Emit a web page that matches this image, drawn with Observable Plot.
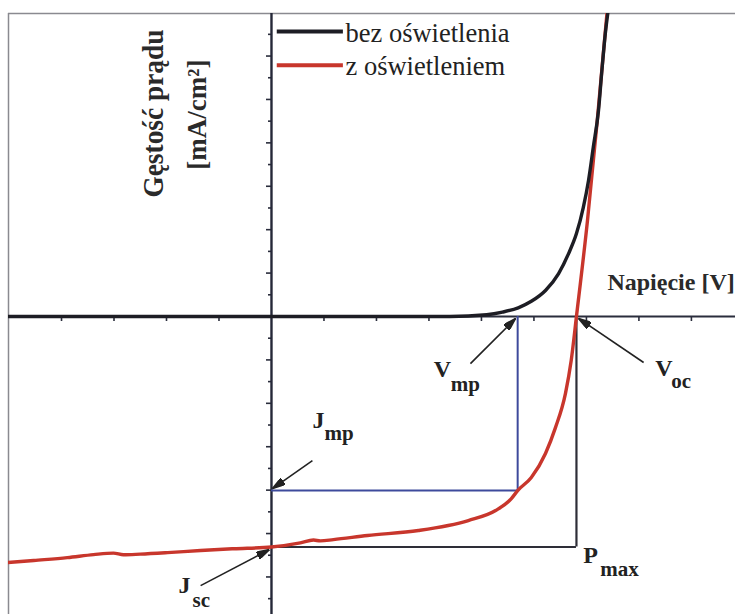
<!DOCTYPE html>
<html><head><meta charset="utf-8">
<script src="https://cdn.jsdelivr.net/npm/d3@7"></script>
<script src="https://cdn.jsdelivr.net/npm/@observablehq/plot@0.6"></script>
<style>body{margin:0;background:#fff}#chart svg{display:block}</style>
</head><body><div id="chart"></div>
<script>
// ---- data ----
const darkV = [-0.503, 0.34, 0.410, 0.440, 0.470, 0.495, 0.522, 0.547, 0.566, 0.581, 0.594, 0.604, 0.613, 0.623, 0.629, 0.636, 0.642];
const darkJ = [0, 0, 0.08, 0.20, 0.40, 0.70, 1.20, 1.98, 2.90, 3.82, 5.02, 6.27, 7.79, 9.49, 11.2, 13.04, 14.2];
const lightV = [-0.503, -0.453, -0.389, -0.339, -0.301, -0.282, -0.250, -0.198, -0.135, -0.072, 0, 0.055, 0.080, 0.093, 0.118, 0.183, 0.280, 0.375, 0.427, 0.457, 0.469, 0.495, 0.522, 0.541, 0.560, 0.571, 0.581, 0.602, 0.621, 0.640];
const lightJ = [-11.34, -11.24, -11.11, -10.97, -10.90, -10.98, -10.95, -10.88, -10.78, -10.70, -10.62, -10.43, -10.30, -10.34, -10.28, -10.09, -9.86, -9.40, -8.94, -8.39, -8.02, -7.42, -6.31, -5.12, -3.55, -2.03, 0, 4.42, 9.12, 14.2];
const xTicks = [-0.4, -0.3, -0.2, -0.1, 0.1, 0.2, 0.3, 0.4, 0.5, 0.6, 0.7, 0.8];
const yTicks = [-13,-12,-11,-10,-9,-8,-7,-6,-5,-4,-3,-2,-1,1,2,3,4,5,6,7,8,9,10,11,12,13];
const Vmp = 0.469, Jmp = -8.02, Voc = 0.581, Jsc = -10.62;
const seriesNames = ["bez oświetlenia", "z oświetleniem"];
const seriesColors = ["#1d1d24", "#c8362c"];
// annotation labels: main letter, subscript, anchor point
const labelMain = ["V", "V", "J", "J", "P"];
const labelSub = ["mp", "oc", "mp", "sc", "max"];
const labelV = [0.309, 0.731, 0.078, -0.177, 0.594];
const labelJ = [-2.81, -2.76, -5.16, -12.76, -11.34];
// arrows: tail -> head
const arrowTailV = [0.379, 0.709, 0.078, -0.135];
const arrowTailJ = [-2.17, -2.12, -6.64, -12.40];
const arrowHeadV = [0.465, 0.585, 0.002, -0.004];
const arrowHeadJ = [-0.09, -0.09, -7.93, -10.74];

// ---- layout ----
const W = 735, H = 614, mT = 13, mL = 8, mR = 0, mB = 0;
const xDomain = [-0.501, 0.884];
const yDomain = [-13.73, 13.96];
const pxPerV = (W - mL - mR) / (xDomain[1] - xDomain[0]);
const pxPerJ = (H - mT - mB) / (yDomain[1] - yDomain[0]);
const serif = "Liberation Serif";

const dark = darkV.map((v, i) => ({V: v, J: darkJ[i]}));
const light = lightV.map((v, i) => ({V: v, J: lightJ[i]}));
const labels = labelMain.map((m, i) => ({m, s: labelSub[i], V: labelV[i], J: labelJ[i]}));
const arrows = arrowTailV.map((v, i) => ({x1: v, y1: arrowTailJ[i], x2: arrowHeadV[i], y2: arrowHeadJ[i]}));
const legend = seriesNames.map((n, i) => ({n, c: seriesColors[i], y: [13.13, 11.57][i]}));

function headMarker(color, context) {
  const ns = "http://www.w3.org/2000/svg";
  const doc = context && context.document ? context.document : document;
  const m = doc.createElementNS(ns, "marker");
  m.setAttribute("viewBox", "-13 -4 13 8");
  m.setAttribute("markerWidth", "13");
  m.setAttribute("markerHeight", "8");
  m.setAttribute("markerUnits", "userSpaceOnUse");
  m.setAttribute("orient", "auto");
  m.setAttribute("refX", "0");
  m.setAttribute("refY", "0");
  const p = doc.createElementNS(ns, "path");
  p.setAttribute("d", "M-13,-3.8L0,0L-13,3.8Z");
  p.setAttribute("fill", color);
  m.appendChild(p);
  return m;
}

function build(marker) {
  const subDx = [17, 16, 12, 14, 17];
  const subDy = [14, 12, 12, 14, 13];
  return Plot.plot({
    width: W, height: H,
    marginTop: mT, marginLeft: mL, marginRight: mR, marginBottom: mB,
    x: {domain: xDomain, axis: null},
    y: {domain: yDomain, axis: null},
    style: {background: "#fff", overflow: "visible"},
    marks: [
      // frame (top and left border)
      Plot.ruleY([yDomain[1]], {x1: xDomain[0], x2: xDomain[1], stroke: "#8a8a90", strokeWidth: 1.5}),
      Plot.ruleX([xDomain[0]], {y1: yDomain[0], y2: yDomain[1], stroke: "#8a8a90", strokeWidth: 1.5}),
      // y ticks (pointing left)
      Plot.ruleY(yTicks, {y: d => d, x1: 0, x2: d => -(d % 2 === 0 ? 5 : 3) / pxPerV, stroke: "#2a2d3c", strokeWidth: 1.6}),
      // x ticks (pointing down)
      Plot.ruleX(xTicks, {x: d => d, y1: 0, y2: -5 / pxPerJ, stroke: "#2a2d3c", strokeWidth: 1.6}),
      // axes
      Plot.ruleY([0], {x1: xDomain[0], x2: xDomain[1], stroke: "#2a2d3c", strokeWidth: 2.2}),
      Plot.ruleX([0], {y1: yDomain[0], y2: yDomain[1], stroke: "#252838", strokeWidth: 2.4}),
      // max power rectangle (Vmp, Jmp)
      Plot.ruleY([Jmp], {x1: 0, x2: Vmp, stroke: "#3d4a9c", strokeWidth: 2}),
      Plot.ruleX([Vmp], {y1: 0, y2: Jmp, stroke: "#3d4a9c", strokeWidth: 2}),
      // Voc x Jsc rectangle
      Plot.ruleY([Jsc], {x1: 0, x2: Voc, stroke: "#2e2e38", strokeWidth: 2.2}),
      Plot.ruleX([Voc], {y1: 0, y2: Jsc, stroke: "#2e2e38", strokeWidth: 2.2}),
      // curves
      Plot.line(light, {x: "V", y: "J", stroke: seriesColors[1], strokeWidth: 3.4, curve: "monotone-x", clip: true}),
      Plot.line(dark, {x: "V", y: "J", stroke: seriesColors[0], strokeWidth: 3.4, curve: "monotone-x", clip: true}),
      // legend
      Plot.ruleY(legend, {y: "y", x1: 0.011, x2: 0.137, stroke: "c", strokeWidth: 4}),
      Plot.text(legend, {y: "y", x: 0.141, text: "n", textAnchor: "start", lineAnchor: "bottom", dy: 10, fontSize: 26.5, fontFamily: serif, fill: "#222"}),
      // axis titles
      Plot.text(["Gęstość prądu"], {x: -0.224, y: 9.35, text: d => d, rotate: -90, fontSize: 29, fontWeight: "bold", fontFamily: serif, fill: "#2a2a2a", className: "ytitle"}),
      Plot.text(["[mA/cm²]"], {x: -0.141, y: 9.3, text: d => d, rotate: -90, fontSize: 27, fontWeight: "bold", fontFamily: serif, fill: "#2a2a2a"}),
      Plot.text(["Napięcie [V]"], {x: 0.640, y: 1.20, text: d => d, textAnchor: "start", lineAnchor: "bottom", fontSize: 24, fontWeight: "bold", fontFamily: serif, fill: "#2a2a2a"}),
      // arrows
      Plot.link(arrows, {x1: "x1", y1: "y1", x2: "x2", y2: "y2", stroke: "#222", strokeWidth: 1.6, markerEnd: marker}),
      // annotation labels
      Plot.text(labels, {x: "V", y: "J", text: "m", textAnchor: "start", lineAnchor: "bottom", fontSize: 24, fontWeight: "bold", fontFamily: serif, fill: "#222"}),
      ...labels.map((d, i) => Plot.text([d], {x: "V", y: "J", text: "s", textAnchor: "start", lineAnchor: "bottom", dx: subDx[i], dy: subDy[i], fontSize: 21, fontWeight: "bold", fontFamily: serif, fill: "#222"}))
    ]
  });
}

let chart;
try { chart = build(headMarker); } catch (e) { chart = build("arrow"); }
// stretch the vertical title to the length it has in the original
d3.select(chart).selectAll("text").filter(function () { return this.textContent === "Gęstość prądu"; })
  .attr("textLength", 168).attr("lengthAdjust", "spacingAndGlyphs");
document.getElementById("chart").appendChild(chart);
</script>
</body></html>
